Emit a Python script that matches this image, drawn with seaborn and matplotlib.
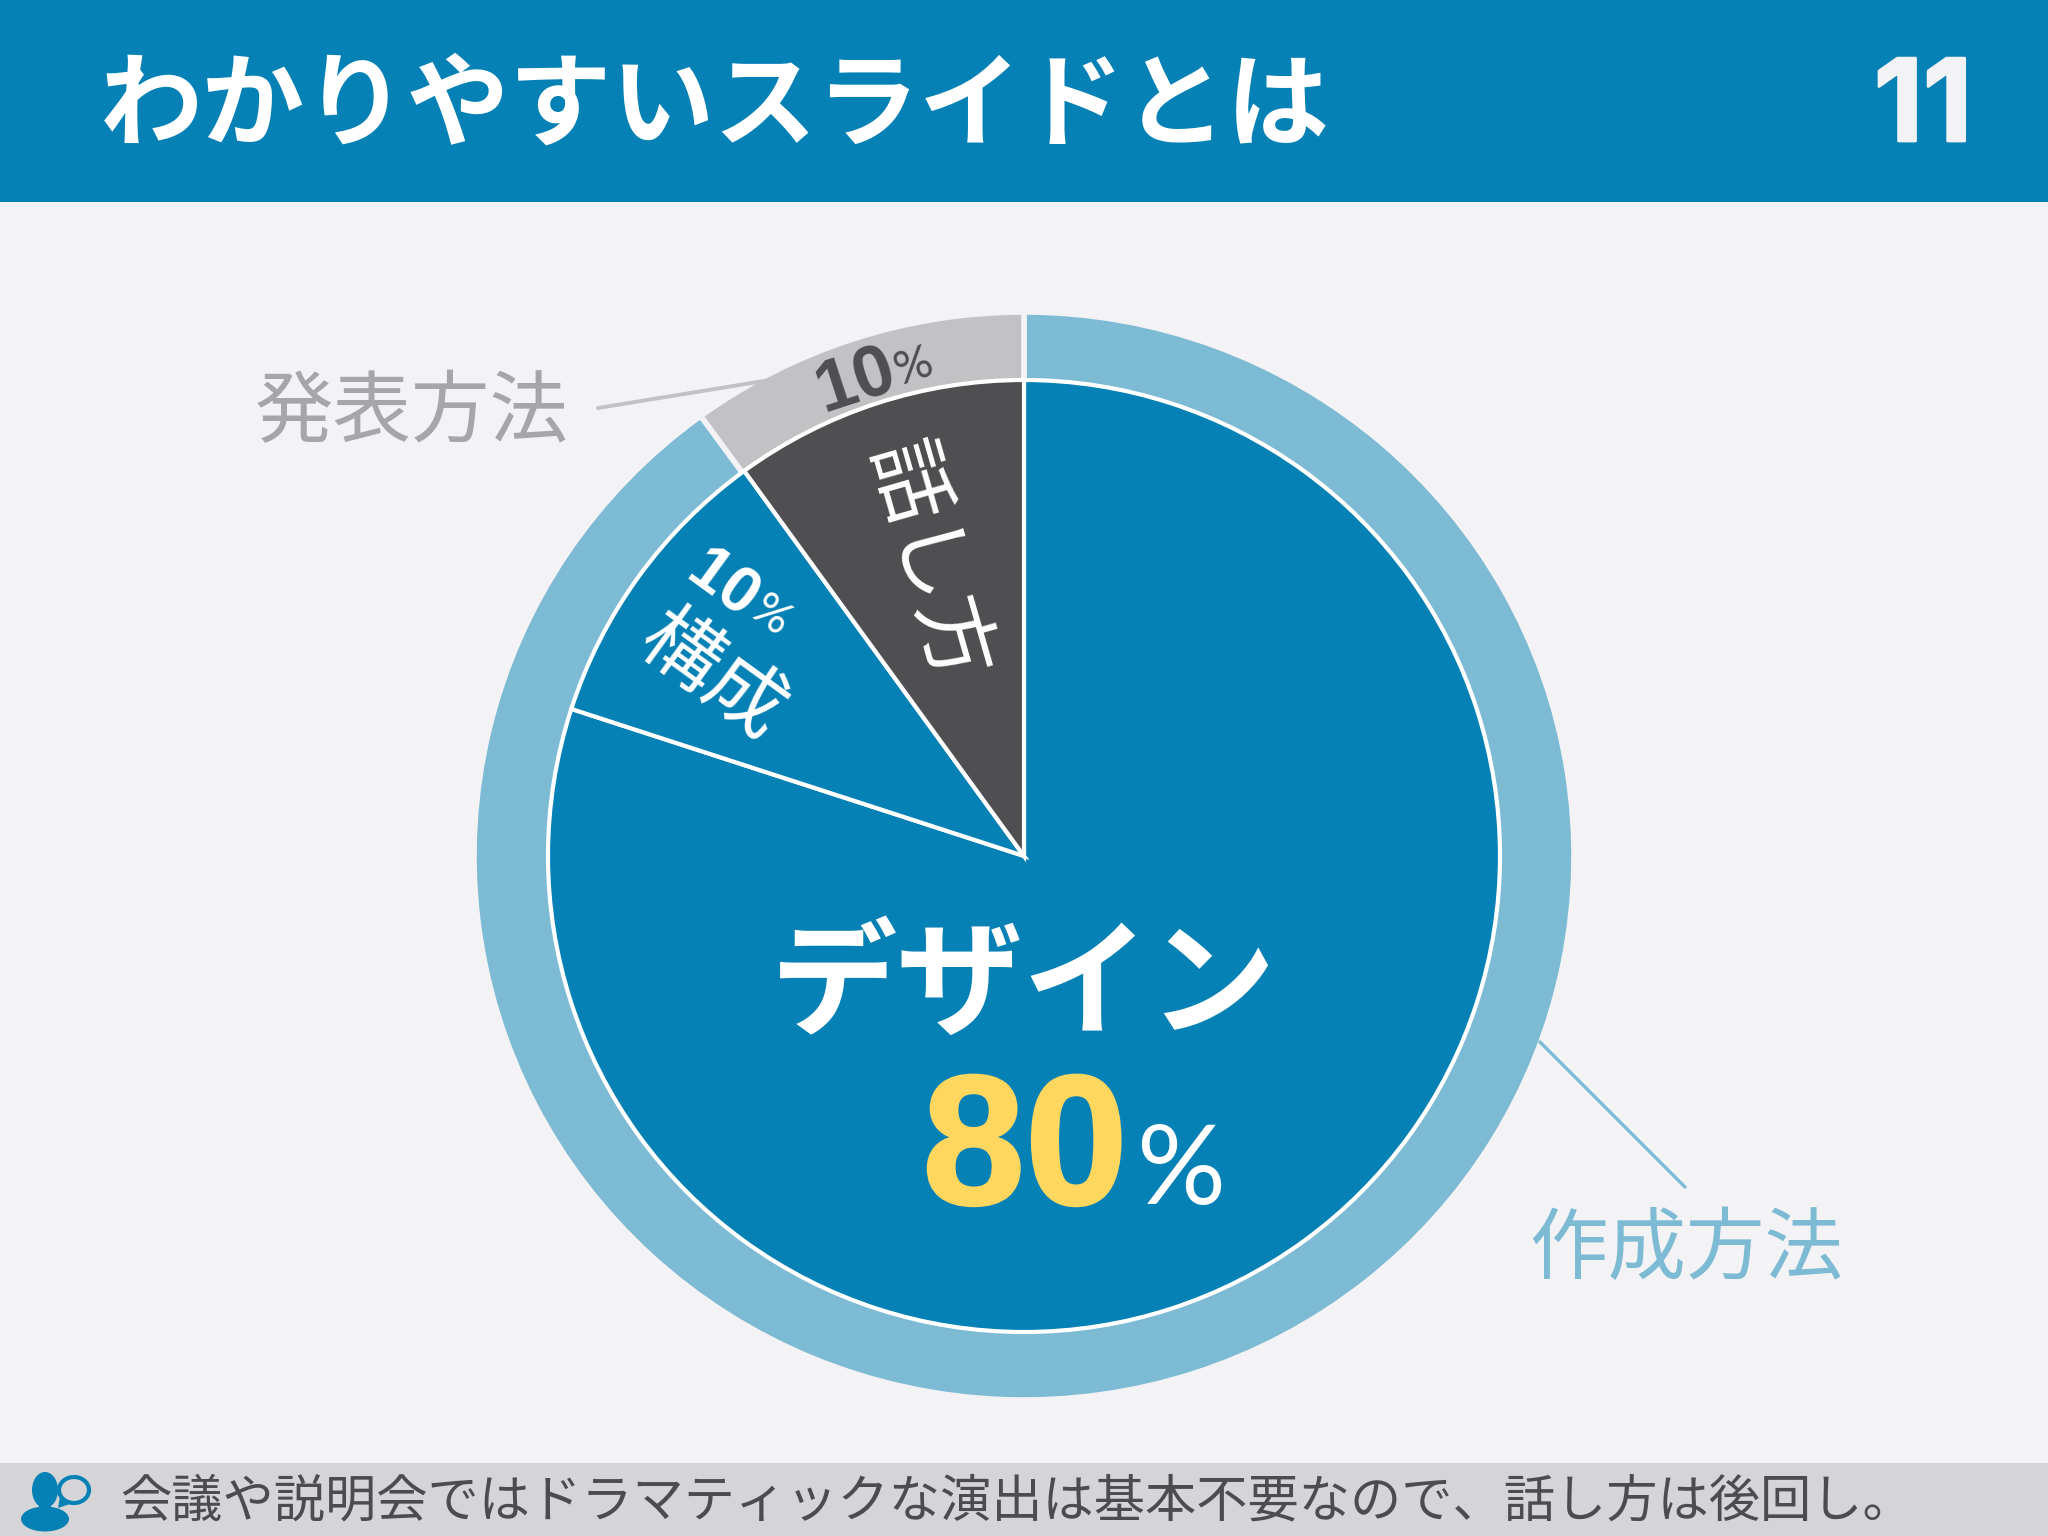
import matplotlib
matplotlib.use("Agg")
import matplotlib.pyplot as plt
from matplotlib.patches import Rectangle, Ellipse, Arc, Polygon
import matplotlib.patheffects as pe
import seaborn as sns

title = "わかりやすいスライドとは"
page = "11"
footer = "会議や説明会ではドラマティックな演出は基本不要なので、話し方は後回し。"
inner_labels = ["デザイン", "構成", "話し方"]
inner_values = [80, 10, 10]
outer_labels = ["作成方法", "発表方法"]
outer_values = [90, 10]

BLUE, DARK, LIGHT, GRAY = "#0681b6", "#4f4e51", "#7dbad4", "#c2c1c4"
BG, BAND, YEL = "#f3f3f5", "#d5d5d7", "#ffd75f"
inner_colors = sns.color_palette([BLUE, BLUE, DARK])
outer_colors = sns.color_palette([LIGHT, GRAY])

sns.set_theme(style="white")
JP = ["Noto Sans CJK JP", "DejaVu Sans"]
NUM = ["Liberation Sans", "DejaVu Sans"]
PAGE = ["Inter", "DejaVu Sans"]
LT = ["Lato", "DejaVu Sans"]
plt.rcParams["font.family"] = JP

fig = plt.figure(figsize=(20.48, 15.36), dpi=100, facecolor=BG)
bg = fig.add_axes([0, 0, 1, 1], zorder=0)
bg.set_xlim(0, 2048); bg.set_ylim(1536, 0); bg.axis("off")
bg.add_patch(Rectangle((0, 0), 2048, 202, color=BLUE, lw=0))
bg.add_patch(Rectangle((0, 1463), 2048, 73, color=BAND, lw=0))

cx, cy = 1024, 856
# outer ring is very slightly wider than tall in the reference
Rx, Ry = 550, 544
ring = fig.add_axes([(cx - Rx) / 2048, 1 - (cy + Ry) / 1536, 2 * Rx / 2048, 2 * Ry / 1536], zorder=1)
ring.pie(outer_values, colors=outer_colors, startangle=90, counterclock=False, radius=1.0,
         wedgeprops=dict(edgecolor=BG, linewidth=4))
ring.set_xlim(-1, 1); ring.set_ylim(-1, 1); ring.set_aspect("auto"); ring.axis("off")

R = 478
pie = fig.add_axes([(cx - R) / 2048, 1 - (cy + R) / 1536, 2 * R / 2048, 2 * R / 1536], zorder=2)
pie.pie(inner_values, colors=inner_colors, startangle=90, counterclock=False, radius=476 / R,
        wedgeprops=dict(edgecolor="white", linewidth=3))
pie.set_xlim(-1, 1); pie.set_ylim(-1, 1); pie.set_aspect("equal"); pie.axis("off")

top = fig.add_axes([0, 0, 1, 1], zorder=3)
top.set_xlim(0, 2048); top.set_ylim(1536, 0); top.axis("off"); top.patch.set_alpha(0)

def T(x, y, s, size, color, weight="normal", rot=0, ha="center", family=None, heavy=0):
    t = top.text(x, y, s, fontsize=size, color=color, fontweight=weight, rotation=rot, ha=ha, va="center",
                 rotation_mode="anchor", family=family or JP)
    if heavy:
        t.set_path_effects([pe.withStroke(linewidth=heavy, foreground=color)])

T(100, 107, title, 73.8, "white", "bold", ha="left")
T(1923, 111, page, 82, BG, "bold", family=PAGE, heavy=2)
T(120, 1502, footer, 36.9, "#4c4c4e", ha="left")

T(412, 414, outer_labels[1], 56.5, "#a6a6a8")
T(1686, 1250, outer_labels[0], 56.5, LIGHT)
top.plot([598, 770], [408, 380], color=GRAY, lw=2.8)
top.plot([1685, 1540], [1187, 1042], color=LIGHT, lw=2.4)

T(1024, 988, inner_labels[0], 91, "white", "bold")
T(1025, 1156, "80", 133, YEL, "bold", family=NUM, heavy=2)
T(1181, 1173, "%", 80, "white", family=LT)

T(712, 677, inner_labels[1], 57, "white", rot=-36)
T(722, 586, "10", 46, "white", "bold", rot=-36, family=NUM)
T(771, 616, "%", 33, "white", rot=-36, family=LT)
T(928, 563, inner_labels[2], 59, "white", rot=-74)
T(856, 381, "10", 52, DARK, "bold", rot=18, family=NUM)
T(914, 367, "%", 34, DARK, rot=18, family=LT)

# footer icon
top.add_patch(Ellipse((45, 1490), 26, 36, color=BLUE, lw=0))
top.add_patch(Ellipse((45, 1519), 48, 25, color=BLUE, lw=0))
top.add_patch(Rectangle((39, 1500), 12, 12, color=BLUE, lw=0))
top.add_patch(Arc((74, 1490), 30, 26, theta1=-240, theta2=120, color=BLUE, lw=3))
top.add_patch(Polygon([[58, 1508], [60, 1496], [70, 1504]], color=BLUE, lw=0))

fig.savefig("out.png", dpi=100, facecolor=BG)
